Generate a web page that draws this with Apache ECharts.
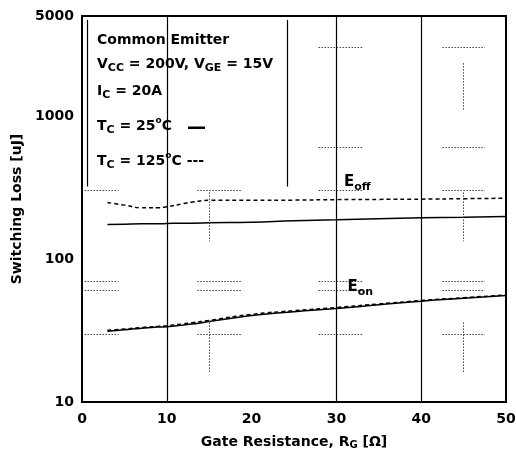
<!DOCTYPE html>
<html><head><meta charset="utf-8">
<script src="https://cdn.jsdelivr.net/npm/echarts@6/dist/echarts.min.js"></script>
<style>html,body{margin:0;padding:0;background:#fff}#c{width:516px;height:462px}</style>
</head><body><div id="c"></div>
<script>
// ---- data ----
const xTicks = [0, 10, 20, 30, 40, 50];
const yTicks = [10, 100, 1000, 5000];
const rg = [3, 5, 7, 9, 10, 12, 13, 15, 20, 25, 30, 35, 40, 45, 50];
const eoff125 = [248, 238, 228, 228, 232, 244, 250, 257, 257, 258, 260, 261, 262, 264, 266];
const eoff25  = [174, 175, 176, 176, 177, 178, 178, 179, 181, 185, 188, 191, 194, 196, 198];
const eon125  = [31.8, 32.4, 33.2, 33.8, 34.2, 35.2, 35.8, 37.2, 41.0, 43.5, 45.8, 48.5, 51.2, 53.6, 56.0];
const eon25   = [31.3, 32.0, 32.8, 33.4, 33.6, 34.6, 35.1, 36.5, 40.2, 42.8, 45.0, 47.8, 50.7, 53.1, 55.5];
const solidGridX = [10, 30, 40];
// dotted scan-grid fragments: [y, x1, x2] and [x, y1, y2]
const dotH = [[3000,27.9,33.2],[3000,42.5,47.5],[600,27.9,33.2],[600,42.5,47.5],
  [300,0.3,4.3],[300,13.6,18.9],[300,27.9,33.2],[300,42.5,47.5],
  [70,0.3,4.3],[70,13.6,18.9],[70,27.9,33.2],[70,42.5,47.5],
  [60,0.3,4.3],[60,13.6,18.9],[60,27.9,33.2],[60,42.5,47.5],
  [30,0.3,4.3],[30,13.6,18.9],[30,27.9,33.2],[30,42.5,47.5]];
const dotV = [[45,2340,1100],[15,292,133],[45,292,133],[15,36,16.2],[45,36,16.2]];
const boxV = [[0.6, 4700, 321],[24.2, 4700, 321]];

const pair = a => a.map((v, i) => [rg[i], v]);
const chart = echarts.init(document.getElementById('c'));
const F = 'DejaVu Sans, sans-serif';
const segs = [];
dotH.forEach(d => segs.push([{coord:[d[1], d[0]]}, {coord:[d[2], d[0]]}]));
dotV.forEach(d => segs.push([{coord:[d[0], d[1]]}, {coord:[d[0], d[2]]}]));
const boxSegs = boxV.map(d => [{coord:[d[0], d[1]]}, {coord:[d[0], d[2]]}]);
const subRich = {fontFamily: F, fontWeight: 'bold', fontSize: 11, color: '#000', verticalAlign: 'bottom', padding: [10,0,0,0]};

chart.setOption({
  animation: false,
  grid: {left: 82, right: 10, top: 16, bottom: 60, show: true, borderColor: '#000', borderWidth: 2, backgroundColor: 'transparent',
    containLabel: false, outerBoundsMode: 'none'},
  xAxis: {
    type: 'value', min: 0, max: 50, interval: 10,
    name: 'Gate Resistance, R{s|G} [Ω]', nameLocation: 'middle', nameGap: 32,
    nameTextStyle: {fontFamily: F, fontWeight: 'bold', fontSize: 14, color: '#000',
      rich: {s: {fontFamily: F, fontWeight: 'bold', fontSize: 10, color: '#000', verticalAlign: 'bottom', padding: [6,0,0,0]}}},
    axisLine: {show: true, lineStyle: {color: '#000', width: 2}},
    axisTick: {show: false}, splitLine: {show: false},
    axisLabel: {fontFamily: F, fontWeight: 'bold', fontSize: 14, color: '#000', margin: 10,
      customValues: xTicks}
  },
  yAxis: {
    type: 'log', logBase: 10, min: 10, max: 5000,
    name: 'Switching Loss [uJ]', nameLocation: 'middle', nameGap: 53,
    nameTextStyle: {fontFamily: F, fontWeight: 'bold', fontSize: 14, color: '#000'},
    axisLine: {show: true, lineStyle: {color: '#000', width: 2}},
    axisTick: {show: false}, splitLine: {show: false},
    axisLabel: {fontFamily: F, fontWeight: 'bold', fontSize: 14, color: '#000', margin: 8,
      customValues: yTicks, formatter: v => String(Math.round(v))}
  },
  series: [
    {type: 'line', data: pair(eoff125), showSymbol: false, smooth: true, lineStyle: {color: '#000', width: 1.5, type: [4, 3]},
      markLine: {silent: true, symbol: 'none', label: {show: false}, lineStyle: {color: '#000', width: 1.2, type: 'solid'},
        data: solidGridX.map(x => ({xAxis: x}))}},
    {type: 'line', data: pair(eoff25), showSymbol: false, smooth: true, lineStyle: {color: '#000', width: 1.5},
      markPoint: {symbol: 'circle', symbolSize: 0, data: [{coord: [30.9, 345], label: {show: true, position: 'right', formatter: '{e|E}{s|off}', distance: 0,
        rich: {e: {fontFamily: F, fontWeight: 'bold', fontSize: 15, color: '#000'}, s: subRich}}}]}},
    {type: 'line', data: pair(eon125), showSymbol: false, smooth: true, lineStyle: {color: '#000', width: 1.5, type: [4, 3]},
      markLine: {silent: true, symbol: 'none', label: {show: false}, lineStyle: {color: '#444', width: 1, type: [1.5, 1.5]}, data: segs}},
    {type: 'line', data: pair(eon25), showSymbol: false, smooth: true, lineStyle: {color: '#000', width: 1.5},
      markLine: {silent: true, symbol: 'none', label: {show: false}, lineStyle: {color: '#000', width: 1.2, type: 'solid'}, data: boxSegs},
      markPoint: {symbol: 'circle', symbolSize: 0, data: [{coord: [31.3, 64], label: {show: true, position: 'right', formatter: '{e|E}{s|on}', distance: 0,
        rich: {e: {fontFamily: F, fontWeight: 'bold', fontSize: 15, color: '#000'}, s: subRich}}}]}}
  ],
  graphic: (function(){
    const base = {fontFamily: F, fontWeight: 'bold', fontSize: 14, fill: '#000'};
    const rich = {
      s: {fontFamily: F, fontWeight: 'bold', fontSize: 11, fill: '#000', verticalAlign: 'bottom', padding: [9,0,0,0]},
      u: {fontFamily: F, fontWeight: 'bold', fontSize: 9, fill: '#000', verticalAlign: 'top', padding: [0,0,9,0]}
    };
    const lines = [
      ['Common Emitter', 42],
      ['V{s|CC} = 200V, V{s|GE} = 15V', 66],
      ['I{s|C} = 20A', 93],
      ['T{s|C} = 25{u|o}C', 125],
      ['T{s|C} = 125{u|o}C ---', 160]
    ];
    const g = lines.map(l => ({type: 'text', left: 97, top: l[1] - 9, style: Object.assign({text: l[0], rich: rich}, base)}));
    g.push({type: 'rect', shape: {x: 188, y: 126.5, width: 17, height: 2.5}, style: {fill: '#000'}});
    return g;
  })()
});
</script></body></html>
